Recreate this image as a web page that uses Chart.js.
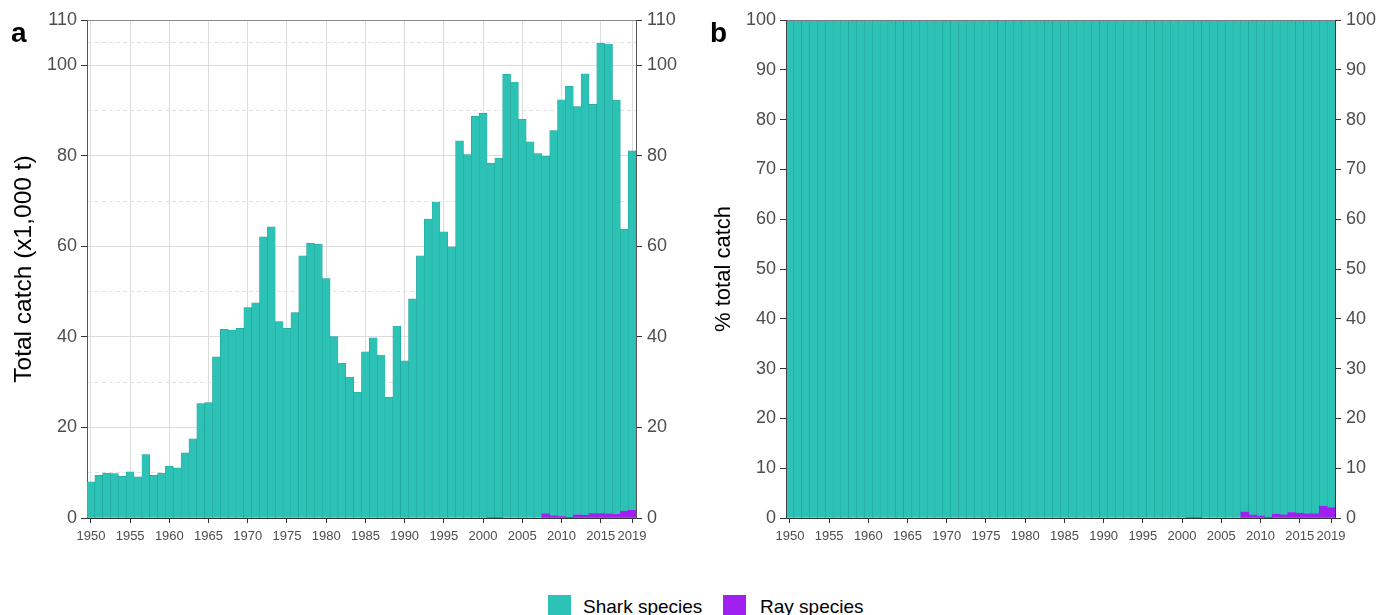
<!DOCTYPE html>
<html>
<head>
<meta charset="utf-8">
<script src="https://cdn.jsdelivr.net/npm/chart.js@4/dist/chart.umd.min.js"></script>
<style>
  html, body { margin: 0; padding: 0; background: #fff; overflow: hidden; width: 1381px; height: 615px; }
  #wrap { position: relative; width: 1381px; height: 615px; overflow: hidden; font-family: "Liberation Sans", Arial, sans-serif; }
  .panel { position: absolute; top: 0; }
  #pa { left: 0; }
  #pb { left: 690px; }
  .tag { position: absolute; font-weight: bold; font-size: 28px; line-height: 28px; color: #000; }
  .key { position: absolute; width: 23px; height: 23px; top: 595px; }
  .keytxt { position: absolute; font-size: 19px; line-height: 19px; top: 597px; color: #000; white-space: nowrap; }
</style>
</head>
<body>
<div id="wrap">
  <canvas id="pa" class="panel" width="690" height="560"></canvas>
  <canvas id="pb" class="panel" width="691" height="560"></canvas>
  <div class="tag" style="left:11px;top:19px;">a</div>
  <div class="tag" style="left:710px;top:19px;">b</div>
  <div class="key" style="left:548px;background:#2CC2B6;"></div>
  <div class="keytxt" style="left:583px;">Shark species</div>
  <div class="key" style="left:723px;background:#A020F0;"></div>
  <div class="keytxt" style="left:760px;">Ray species</div>
</div>
<script>
// Annual catch, thousand tonnes
const years = Array.from({ length: 70 }, (_, i) => 1950 + i);

const sharkCatch = [
  8.0, 9.4, 9.9, 9.8, 9.2, 10.2, 9.1, 14.0, 9.4, 9.9,          // 1950-1959
  11.4, 11.1, 14.4, 17.5, 25.3, 25.5, 35.6, 41.7, 41.5, 41.9,  // 1960-1969
  46.5, 47.5, 62.1, 64.3, 43.4, 41.9, 45.4, 57.9, 60.7, 60.5,  // 1970-1979
  52.9, 40.1, 34.2, 31.1, 27.8, 36.7, 39.8, 36.0, 26.7, 42.4,  // 1980-1989
  34.7, 48.4, 57.9, 66.0, 69.8, 63.2, 59.9, 83.3, 80.3, 88.7,  // 1990-1999
  89.4, 78.3, 79.4, 98.0, 96.3, 88.1, 83.1, 80.5, 78.95, 85.1, // 2000-2009
  92.0, 95.3, 90.2, 97.5, 90.4, 103.9, 103.8, 91.5, 62.3, 79.4 // 2010-2019
];

const rayCatch = [
  0, 0, 0, 0, 0, 0, 0, 0, 0, 0,
  0, 0, 0, 0, 0, 0, 0, 0, 0, 0,
  0, 0, 0, 0, 0, 0, 0, 0, 0, 0,
  0, 0, 0, 0, 0, 0, 0, 0, 0, 0,
  0, 0, 0, 0, 0, 0, 0, 0, 0, 0,
  0, 0.1, 0.1, 0, 0, 0, 0, 0, 0.95, 0.5,
  0.35, 0.05, 0.7, 0.6, 1.0, 1.0, 0.9, 0.8, 1.5, 1.7
];

const yearTicks = [1950, 1955, 1960, 1965, 1970, 1975, 1980, 1985, 1990, 1995, 2000, 2005, 2010, 2015, 2019];
const catchTicks = [0, 20, 40, 60, 80, 100, 110];
const catchMinorTicks = [10, 30, 50, 70, 90, 105];
const shareTicks = [0, 10, 20, 30, 40, 50, 60, 70, 80, 90, 100];

// Share of the yearly total taken by each group, in percent
const totalCatch = years.map((_, i) => sharkCatch[i] + rayCatch[i]);
const sharkShare = years.map((_, i) => sharkCatch[i] / totalCatch[i] * 100);
const rayShare = years.map((_, i) => rayCatch[i] / totalCatch[i] * 100);

const TEAL = '#2CC2B6';
const TEAL_EDGE = '#1F9E94';
const PURPLE = '#A020F0';
const AXIS = '#333333';
const TICK_TEXT = '#4D4D4D';
const GRID = '#DCDCDC';

Chart.defaults.font.family = '"Liberation Sans", Arial, sans-serif';
Chart.defaults.animation = false;

const toPoints = vals => years.map((y, i) => ({ x: y, y: vals[i] }));
const setTicks = list => scale => { scale.ticks = list.map(v => ({ value: v })); };

function xScale(showGrid) {
  return {
    type: 'linear', min: 1949.5, max: 2019.5, offset: false,
    afterBuildTicks: setTicks(yearTicks),
    ticks: { callback: v => String(v), autoSkip: false, maxRotation: 0, font: { size: 13 }, color: TICK_TEXT, padding: 6 },
    grid: { offset: false, color: showGrid ? GRID : 'rgba(0,0,0,0)', tickColor: AXIS, tickLength: 5 },
    border: { color: AXIS, width: 1 },
    afterFit: s => { s.height = 42; }
  };
}

function datasets(shark, ray) {
  return [
    { label: 'Ray species', data: toPoints(ray), backgroundColor: PURPLE, borderWidth: 0,
      stack: 'all', barPercentage: 1, categoryPercentage: 1 },
    { label: 'Shark species', data: toPoints(shark), backgroundColor: TEAL, borderColor: TEAL_EDGE,
      borderWidth: 0.5, stack: 'all', barPercentage: 1, categoryPercentage: 1 }
  ];
}

const commonOpts = {
  responsive: false,
  devicePixelRatio: 1,
  events: [],
  layout: { padding: { top: 20, left: 0, right: 0, bottom: 0 } },
  plugins: { legend: { display: false }, tooltip: { enabled: false } }
};

// Panel a: catch in thousand tonnes
new Chart(document.getElementById('pa'), {
  type: 'bar',
  data: { datasets: datasets(sharkCatch, rayCatch) },
  options: Object.assign({}, commonOpts, {
    scales: {
      x: xScale(true),
      y: {
        position: 'left', min: 0, max: 110,
        afterBuildTicks: setTicks([...catchTicks, ...catchMinorTicks].sort((a, b) => a - b)),
        ticks: { callback: v => catchMinorTicks.includes(v) ? '' : String(v), autoSkip: false,
                 font: { size: 18 }, color: TICK_TEXT, padding: 4 },
        grid: {
          color: c => (c.tick && c.tick.value === 110) ? '#8A8A8A' : (c.tick && catchMinorTicks.includes(c.tick.value) ? '#E2E2E2' : GRID),
          tickColor: c => (c.tick && catchMinorTicks.includes(c.tick.value)) ? 'rgba(0,0,0,0)' : AXIS,
          tickLength: 6
        },
        border: { color: '#555555', width: 1,
                  dash: c => (c.tick && catchMinorTicks.includes(c.tick.value)) ? [4, 3] : [] },
        title: { display: true, text: 'Total catch (x1,000 t)', color: '#000', font: { size: 24.5 },
                 padding: { top: 10, bottom: 0 } },
        afterFit: s => { s.width = 87; }
      },
      y2: {
        position: 'right', min: 0, max: 110,
        afterBuildTicks: setTicks(catchTicks),
        ticks: { callback: v => String(v), autoSkip: false, font: { size: 18 }, color: TICK_TEXT, padding: 5 },
        grid: { drawOnChartArea: false, tickColor: AXIS, tickLength: 6 },
        border: { color: '#555555', width: 1 },
        afterFit: s => { s.width = 54; }
      }
    }
  })
});

// Panel b: share of total catch
new Chart(document.getElementById('pb'), {
  type: 'bar',
  data: { datasets: datasets(sharkShare, rayShare) },
  options: Object.assign({}, commonOpts, {
    scales: {
      x: xScale(false),
      y: {
        position: 'left', min: 0, max: 100,
        afterBuildTicks: setTicks(shareTicks),
        ticks: { callback: v => String(v), autoSkip: false, font: { size: 18 }, color: TICK_TEXT, padding: 4 },
        grid: { z: 1, color: c => (c.tick && c.tick.value === 100) ? '#7A7A7A' : 'rgba(0,0,0,0)',
                tickColor: AXIS, tickLength: 6 },
        border: { z: 2, color: '#444444', width: 1 },
        title: { display: true, text: '% total catch', color: '#000', font: { size: 22 },
                 padding: { top: 21, bottom: 0 } },
        afterFit: s => { s.width = 96; }
      },
      y2: {
        position: 'right', min: 0, max: 100,
        afterBuildTicks: setTicks(shareTicks),
        ticks: { callback: v => String(v), autoSkip: false, font: { size: 18 }, color: TICK_TEXT, padding: 5 },
        grid: { drawOnChartArea: false, tickColor: AXIS, tickLength: 6 },
        border: { color: AXIS, width: 1 },
        afterFit: s => { s.width = 46; }
      }
    }
  })
});
</script>
</body>
</html>
